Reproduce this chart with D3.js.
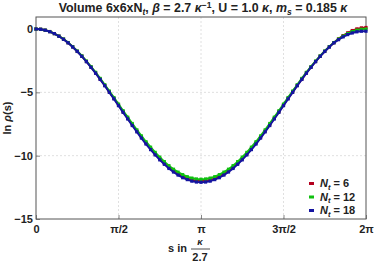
<!DOCTYPE html>
<html>
<head>
<meta charset="utf-8">
<script src="https://cdn.jsdelivr.net/npm/d3@7"></script>
<style>
  body { margin: 0; background: #fff; }
  text { font-family: "Liberation Sans", Arial, sans-serif; font-weight: bold; fill: #222; }
</style>
</head>
<body>
<svg class="chart" width="374" height="265"></svg>
<script>
// s grid: 73 samples from 0 to 2pi, step pi/36
var sValues = d3.range(73).map(function (k) { return k * Math.PI / 36; });

var seriesNames = ["6", "12", "18"];
var seriesColors = ["#b4001e", "#10c010", "#1414a0"];

var lnRhoNt6 = [0, -0.02, -0.09, -0.20, -0.36, -0.56, -0.80, -1.08, -1.40, -1.76, -2.14, -2.56, -3.00, -3.46, -3.95, -4.45, -4.96, -5.48, -6.00, -6.52, -7.04, -7.55, -8.05, -8.54, -9.00, -9.44, -9.86, -10.24, -10.60, -10.92, -11.20, -11.44, -11.64, -11.80, -11.91, -11.98, -12.00,
  -11.98, -11.91, -11.80, -11.64, -11.44, -11.20, -10.92, -10.60, -10.24, -9.86, -9.44, -9.00, -8.54, -8.05, -7.55, -7.04, -6.52, -6.00, -5.48, -4.96, -4.45, -3.95, -3.46, -3.00, -2.56, -2.14, -1.76, -1.40, -1.08, -0.78, -0.52, -0.30, -0.12, 0.01, 0.09, 0.12];
var lnRhoNt12 = [0, -0.02, -0.09, -0.20, -0.36, -0.56, -0.79, -1.07, -1.39, -1.74, -2.12, -2.53, -2.97, -3.42, -3.90, -4.40, -4.90, -5.41, -5.93, -6.45, -6.96, -7.46, -7.96, -8.44, -8.90, -9.33, -9.74, -10.12, -10.47, -10.79, -11.07, -11.30, -11.50, -11.66, -11.77, -11.84, -11.86,
  -11.84, -11.77, -11.66, -11.50, -11.30, -11.07, -10.79, -10.47, -10.12, -9.74, -9.33, -8.90, -8.44, -7.96, -7.46, -6.96, -6.45, -5.93, -5.41, -4.90, -4.40, -3.90, -3.42, -2.97, -2.53, -2.12, -1.74, -1.39, -1.07, -0.79, -0.56, -0.36, -0.20, -0.09, -0.02, 0];
var lnRhoNt18 = [0, -0.02, -0.09, -0.21, -0.36, -0.57, -0.81, -1.09, -1.42, -1.77, -2.16, -2.58, -3.03, -3.49, -3.98, -4.48, -5.00, -5.52, -6.05, -6.58, -7.10, -7.62, -8.12, -8.61, -9.08, -9.52, -9.94, -10.33, -10.68, -11.01, -11.29, -11.53, -11.74, -11.89, -12.01, -12.08, -12.10,
  -12.08, -12.01, -11.89, -11.74, -11.53, -11.29, -11.01, -10.68, -10.33, -9.94, -9.52, -9.08, -8.61, -8.12, -7.62, -7.10, -6.58, -6.05, -5.52, -5.00, -4.48, -3.98, -3.49, -3.03, -2.58, -2.16, -1.77, -1.42, -1.09, -0.84, -0.62, -0.44, -0.31, -0.22, -0.17, -0.17];

var xTickValues = [0, Math.PI / 2, Math.PI, 3 * Math.PI / 2, 2 * Math.PI];
var xTickLabels = ["0", "\u03c0/2", "\u03c0", "3\u03c0/2", "2\u03c0"];
var yTickValues = [0, -5, -10, -15];

var series = [lnRhoNt6, lnRhoNt12, lnRhoNt18];

var plotLeft = 36, plotRight = 366, plotTop = 17, plotBottom = 219;

var svg = d3.select("svg.chart");

var x = d3.scaleLinear().domain([0, 2 * Math.PI]).range([plotLeft, plotRight]);
var y = d3.scaleLinear().domain([-15, 0.95]).range([plotBottom, plotTop]);

// grid lines
svg.append("g").selectAll("line")
    .data(xTickValues.slice(1, 4))
    .enter().append("line")
    .attr("x1", d => x(d)).attr("x2", d => x(d))
    .attr("y1", plotTop).attr("y2", plotBottom)
    .attr("stroke", "#d8d8d8").attr("stroke-width", 0.8).attr("stroke-dasharray", "2,2");
svg.append("g").selectAll("line")
    .data([-5, -10])
    .enter().append("line")
    .attr("x1", plotLeft).attr("x2", plotRight)
    .attr("y1", d => y(d)).attr("y2", d => y(d))
    .attr("stroke", "#d8d8d8").attr("stroke-width", 0.8).attr("stroke-dasharray", "2,2");

// axes (ticks pointing inward)
var xAxis = d3.axisBottom(x).tickValues(xTickValues).tickSize(-4).tickPadding(6)
    .tickFormat((d, i) => xTickLabels[i]);
var yAxis = d3.axisLeft(y).tickValues(yTickValues).tickSize(-4).tickPadding(3)
    .tickFormat(d => d < 0 ? "\u2212" + Math.abs(d) : d);

var gx = svg.append("g").attr("transform", "translate(0," + plotBottom + ")").call(xAxis);
var gy = svg.append("g").attr("transform", "translate(" + plotLeft + ",0)").call(yAxis);
[gx, gy].forEach(function (g) {
    g.select(".domain").remove();
    g.selectAll("line").attr("stroke", "#888");
    g.selectAll("text").style("font-size", "11px").attr("fill", "#222");
});

// frame
svg.append("rect")
    .attr("x", plotLeft).attr("y", plotTop)
    .attr("width", plotRight - plotLeft).attr("height", plotBottom - plotTop)
    .attr("fill", "none").attr("stroke", "#555").attr("stroke-width", 1);

// series
series.forEach(function (vals, i) {
    var g = svg.append("g");
    g.append("path")
        .datum(vals)
        .attr("fill", "none")
        .attr("stroke", seriesColors[i])
        .attr("stroke-width", 2)
        .attr("d", d3.line().x((d, k) => x(sValues[k])).y(d => y(d)));
    g.selectAll("rect")
        .data(vals)
        .enter().append("rect")
        .attr("x", (d, k) => x(sValues[k]) - 1.6)
        .attr("y", d => y(d) - 1.6)
        .attr("width", 3.2).attr("height", 3.2)
        .attr("fill", seriesColors[i]);
});

// title
var title = svg.append("text").attr("x", 203).attr("y", 12).attr("text-anchor", "middle")
    .style("font-size", "12.4px");
title.append("tspan").text("Volume 6x6xN");
title.append("tspan").attr("font-style", "italic").attr("dy", 3).style("font-size", "8.5px").text("t");
title.append("tspan").attr("dy", -3).text(", ");
title.append("tspan").attr("font-style", "italic").text("\u03b2");
title.append("tspan").text(" = 2.7 ");
title.append("tspan").attr("font-style", "italic").text("\u03ba");
title.append("tspan").attr("dy", -4).style("font-size", "8.5px").text("\u22121");
title.append("tspan").attr("dy", 4).text(", U = 1.0 ");
title.append("tspan").attr("font-style", "italic").text("\u03ba");
title.append("tspan").text(", ");
title.append("tspan").attr("font-style", "italic").text("m");
title.append("tspan").attr("font-style", "italic").attr("dy", 3).style("font-size", "8.5px").text("s");
title.append("tspan").attr("dy", -3).text(" = 0.185 ");
title.append("tspan").attr("font-style", "italic").text("\u03ba");

// y label
var yl = svg.append("text")
    .attr("transform", "translate(11," + ((plotTop + plotBottom) / 2) + ") rotate(-90)")
    .attr("text-anchor", "middle").style("font-size", "11px");
yl.append("tspan").text("ln ");
yl.append("tspan").attr("font-style", "italic").text("\u03c1");
yl.append("tspan").text("(s)");

// x label: s in kappa / 2.7
svg.append("text").attr("x", 187).attr("y", 252).attr("text-anchor", "end")
    .style("font-size", "11px").text("s in");
svg.append("text").attr("x", 200).attr("y", 245).attr("text-anchor", "middle")
    .style("font-size", "9.5px").attr("font-style", "italic").text("\u03ba");
svg.append("line").attr("x1", 191).attr("x2", 210).attr("y1", 249).attr("y2", 249)
    .attr("stroke", "#222").attr("stroke-width", 0.8);
svg.append("text").attr("x", 200).attr("y", 261).attr("text-anchor", "middle")
    .style("font-size", "11px").text("2.7");

// legend
var legend = svg.append("g");
seriesNames.forEach(function (name, i) {
    var ly = 187 + i * 13.5;
    legend.append("rect").attr("x", 309).attr("y", ly - 5)
        .attr("width", 5).attr("height", 3).attr("fill", seriesColors[i]);
    var t = legend.append("text").attr("x", 320).attr("y", ly).style("font-size", "11px");
    t.append("tspan").attr("font-style", "italic").text("N");
    t.append("tspan").attr("font-style", "italic").attr("dy", 2.5).style("font-size", "7.5px").text("t");
    t.append("tspan").attr("dy", -2.5).text(" = " + name);
});
</script>
</body>
</html>
